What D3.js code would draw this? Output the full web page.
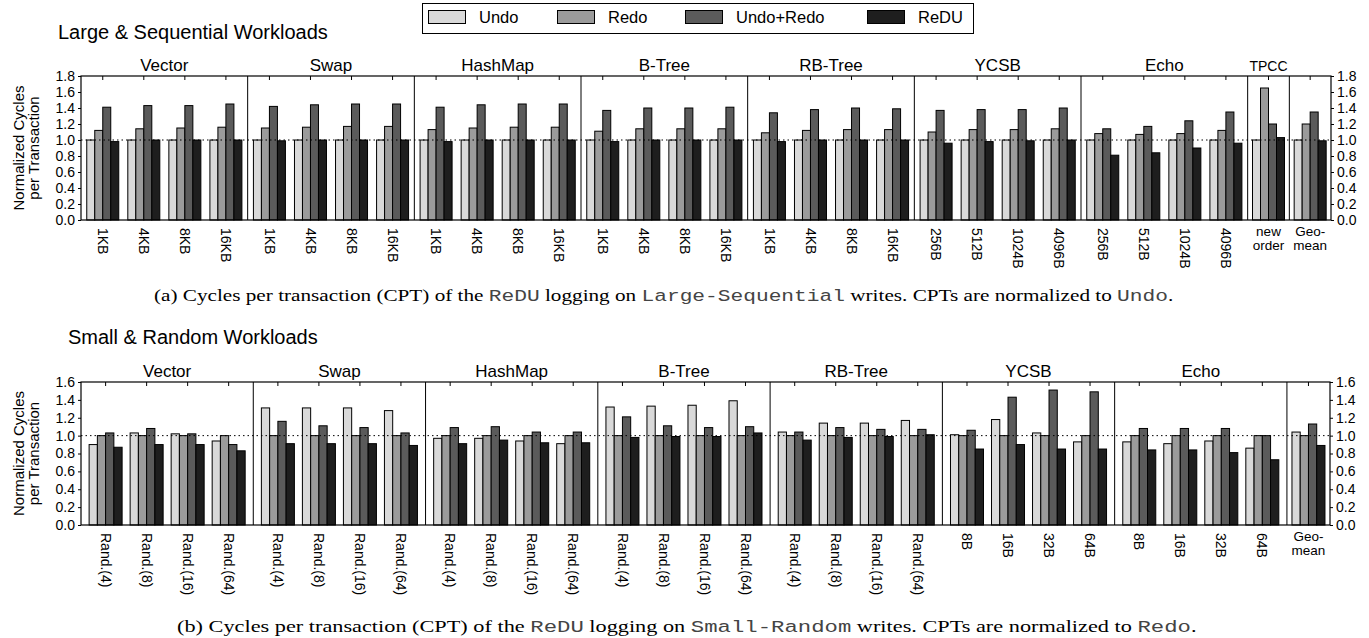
<!DOCTYPE html>
<html lang="en">
<head>
    <meta charset="UTF-8">
    <title>ReDU CPT</title>
    <script src="https://d3js.org/d3.v7.min.js"></script>
    <style>
        body { margin: 0; background: #fff; }
        svg { display: block; }
        text { font-family: "Liberation Sans", Arial, sans-serif; fill: #000; }
        text.cap { font-family: "Liberation Serif", "Times New Roman", serif; font-size: 17px; }
        tspan.mono { font-family: "Liberation Mono", "Courier New", monospace; fill: #444; }
    </style>
</head>
<body>
<svg width="1369" height="638"></svg>
<script>
    const svg = d3.select("svg");

    const series = ["Undo", "Redo", "Undo+Redo", "ReDU"];
    const seriesColors = ["#d9d9d9", "#9b9b9b", "#5b5b5b", "#1e1e1e"];

    // (a) large & sequential
    const kbLabels = ["1KB", "4KB", "8KB", "16KB"];
    const byteLabels = ["256B", "512B", "1024B", "4096B"];
    const largeGroups = ["Vector", "Swap", "HashMap", "B-Tree", "RB-Tree", "YCSB", "Echo", "TPCC", ""];
    const largeLabels = [kbLabels, kbLabels, kbLabels, kbLabels, kbLabels, byteLabels, byteLabels, ["new\norder"], ["Geo-\nmean"]];
    const largeUndo = [1, 1, 1, 1, 1, 1, 1, 1, 1, 1, 1, 1, 1, 1, 1, 1, 1, 1, 1, 1, 1, 1, 1, 1, 1, 1, 1, 1, 1, 1];
    const largeRedo = [1.12, 1.14, 1.15, 1.16, 1.15, 1.16, 1.17, 1.17, 1.13, 1.15, 1.16, 1.16,
        1.11, 1.14, 1.14, 1.14, 1.09, 1.12, 1.13, 1.13, 1.10, 1.13, 1.13, 1.14,
        1.08, 1.07, 1.08, 1.12, 1.65, 1.20];
    const largeUndoRedo = [1.41, 1.43, 1.43, 1.45, 1.42, 1.44, 1.45, 1.45, 1.41, 1.44, 1.45, 1.45,
        1.37, 1.40, 1.40, 1.41, 1.34, 1.38, 1.40, 1.39, 1.37, 1.38, 1.38, 1.40,
        1.14, 1.17, 1.24, 1.35, 1.20, 1.35];
    const largeReDU = [0.98, 1.0, 1.0, 1.0, 0.99, 1.0, 1.0, 1.0, 0.98, 1.0, 1.0, 1.0,
        0.98, 1.0, 1.0, 1.0, 0.98, 1.0, 1.0, 1.0, 0.96, 0.98, 0.99, 1.0,
        0.81, 0.84, 0.90, 0.96, 1.03, 0.99];

    // (b) small & random
    const randLabels = ["Rand.(4)", "Rand.(8)", "Rand.(16)", "Rand.(64)"];
    const smallByteLabels = ["8B", "16B", "32B", "64B"];
    const smallGroups = ["Vector", "Swap", "HashMap", "B-Tree", "RB-Tree", "YCSB", "Echo", ""];
    const smallLabels = [randLabels, randLabels, randLabels, randLabels, randLabels, smallByteLabels, smallByteLabels, ["Geo-\nmean"]];
    const smallUndo = [0.90, 1.03, 1.02, 0.94, 1.31, 1.31, 1.31, 1.28, 0.97, 0.97, 0.94, 0.91,
        1.32, 1.33, 1.34, 1.39, 1.04, 1.14, 1.14, 1.17, 1.01, 1.18, 1.03, 0.93,
        0.93, 0.91, 0.94, 0.86, 1.04];
    const smallRedo = [1, 1, 1, 1, 1, 1, 1, 1, 1, 1, 1, 1, 1, 1, 1, 1, 1, 1, 1, 1, 1, 1, 1, 1, 1, 1, 1, 1, 1];
    const smallUndoRedo = [1.03, 1.08, 1.02, 0.90, 1.16, 1.11, 1.09, 1.03, 1.09, 1.10, 1.04, 1.04,
        1.21, 1.11, 1.09, 1.10, 1.04, 1.09, 1.07, 1.07, 1.06, 1.43, 1.51, 1.49,
        1.08, 1.08, 1.08, 1.00, 1.13];
    const smallReDU = [0.87, 0.90, 0.90, 0.83, 0.91, 0.91, 0.91, 0.89, 0.91, 0.95, 0.92, 0.92,
        0.98, 0.99, 0.99, 1.03, 0.95, 0.98, 0.99, 1.01, 0.85, 0.90, 0.85, 0.85,
        0.84, 0.84, 0.81, 0.73, 0.89];

    // legend (swatch x positions as in the original key)
    const legendX = [428, 557, 685, 867];
    const legend = svg.append("g");
    legend.append("rect").attr("x", 422.5).attr("y", 3.5).attr("width", 551).attr("height", 30)
        .attr("fill", "none").attr("stroke", "#000");
    series.forEach((s, i) => {
        const lx = legendX[i];
        legend.append("rect").attr("x", lx + 0.5).attr("y", 10.5).attr("width", 37).attr("height", 13)
            .attr("fill", seriesColors[i]).attr("stroke", "#000");
        legend.append("text").attr("x", lx + 51).attr("y", 23).attr("font-size", 16.5).text(s);
    });

    function drawPanel(o) {
        const g = svg.append("g");
        const nUnits = d3.sum(o.labels, l => l.length);
        const ux = d3.scaleLinear().domain([0, nUnits]).range([o.left, o.right]);
        const y = d3.scaleLinear().domain([0, o.yMax]).range([o.bottom, o.top]);
        const sub = d3.scaleBand().domain(series).range([-o.cw / 2, o.cw / 2]);
        const values = [o.undo, o.redo, o.undoRedo, o.redu];

        // panel title
        g.append("text").attr("x", o.titleX).attr("y", o.titleY).attr("font-size", 20).text(o.title);

        // y axis label
        const ym = (o.top + o.bottom) / 2;
        g.append("text").attr("transform", `translate(24,${ym}) rotate(-90)`)
            .attr("text-anchor", "middle").attr("font-size", 15).text("Normalized Cycles");
        g.append("text").attr("transform", `translate(39,${ym}) rotate(-90)`)
            .attr("text-anchor", "middle").attr("font-size", 15).text("per Transaction");

        // y axes
        const ticks = d3.range(0, o.yMax + 0.001, 0.2);
        const yl = g.append("g").attr("transform", `translate(${o.left},0)`)
            .call(d3.axisLeft(y).tickValues(ticks).tickFormat(d3.format(".1f")).tickSize(3).tickSizeOuter(0));
        const yr = g.append("g").attr("transform", `translate(${o.right},0)`)
            .call(d3.axisRight(y).tickValues(ticks).tickFormat(d3.format(".1f")).tickSize(3).tickSizeOuter(0));
        [yl, yr].forEach(a => {
            a.selectAll("text").attr("font-size", 14).attr("font-family", "Liberation Sans").attr("fill", "#000");
            a.select(".domain").remove();
        });

        // clusters
        let unit = 0, k = 0;
        const clusters = [];
        o.groups.forEach((name, gi) => {
            const labs = o.labels[gi];
            const x0 = ux(unit), x1 = ux(unit + labs.length);
            const pos = labs.length === 1 ? (() => (x0 + x1) / 2)
                : d3.scalePoint().domain(d3.range(labs.length)).range([x0, x1]).padding(o.pad);
            labs.forEach((lab, li) => {
                clusters.push({cx: pos(li), label: lab, idx: k++});
            });
            if (name) {
                g.append("text").attr("x", (x0 + x1) / 2).attr("y", o.top - 5)
                    .attr("text-anchor", "middle").attr("font-size", name === "TPCC" ? 14 : 17).text(name);
            }
            if (gi > 0) {
                g.append("line").attr("x1", x0).attr("x2", x0).attr("y1", o.top).attr("y2", o.bottom)
                    .attr("stroke", "#000");
            }
            unit += labs.length;
        });

        // bars
        clusters.forEach(c => {
            series.forEach((s, si) => {
                const v = values[si][c.idx];
                g.append("rect")
                    .attr("x", c.cx + sub(s)).attr("width", sub.bandwidth())
                    .attr("y", y(v)).attr("height", y(0) - y(v))
                    .attr("fill", seriesColors[si]).attr("stroke", "#000").attr("stroke-width", 1);
            });
            // top tick
            g.append("line").attr("x1", c.cx).attr("x2", c.cx).attr("y1", o.top).attr("y2", o.top + 4)
                .attr("stroke", "#000");
            // x label
            if (c.label.includes("\n")) {
                const lines = c.label.split("\n");
                lines.forEach((t, i) => {
                    g.append("text").attr("x", c.cx).attr("y", o.bottom + 16 + i * 14)
                        .attr("text-anchor", "middle").attr("font-size", 13.5).text(t);
                });
            } else {
                g.append("text").attr("transform", `translate(${c.cx},${o.bottom + 8}) rotate(90)`)
                    .attr("dy", "0.35em").attr("font-size", 14).text(c.label);
            }
        });

        // reference line at 1.0
        g.append("line").attr("x1", o.left).attr("x2", o.right).attr("y1", y(1)).attr("y2", y(1))
            .attr("stroke", "#000").attr("stroke-dasharray", "1.5,3");

        // frame
        g.append("rect").attr("x", o.left).attr("y", o.top).attr("width", o.right - o.left)
            .attr("height", o.bottom - o.top).attr("fill", "none").attr("stroke", "#000").attr("stroke-width", 1.2);
    }

    drawPanel({
        title: "Large & Sequential Workloads", titleX: 58, titleY: 39,
        groups: largeGroups, labels: largeLabels,
        undo: largeUndo, redo: largeRedo, undoRedo: largeUndoRedo, redu: largeReDU,
        left: 81, right: 1331, top: 76, bottom: 220, yMax: 1.8, pad: 0.53, cw: 32
    });
    drawPanel({
        title: "Small & Random Workloads", titleX: 68, titleY: 344,
        groups: smallGroups, labels: smallLabels,
        undo: smallUndo, redo: smallRedo, undoRedo: smallUndoRedo, redu: smallReDU,
        left: 81, right: 1330, top: 382, bottom: 525, yMax: 1.6, pad: 0.6, cw: 33
    });

    // captions: the figure is stretched sideways, so widen the caption to its span
    function caption(x0, x1, yy, parts) {
        const t = svg.append("text").attr("class", "cap");
        parts.forEach(p => {
            t.append("tspan").attr("class", p[1] ? "mono" : null).text(p[0]);
        });
        const w = t.node().getComputedTextLength();
        t.attr("transform", `translate(${x0},${yy}) scale(${(x1 - x0) / w},1)`);
    }
    caption(154, 1174, 301, [["(a) Cycles per transaction (CPT) of the ", 0], ["ReDU", 1], [" logging on ", 0],
        ["Large-Sequential", 1], [" writes. CPTs are normalized to ", 0], ["Undo", 1], [".", 0]]);
    caption(177, 1197, 632, [["(b) Cycles per transaction (CPT) of the ", 0], ["ReDU", 1], [" logging on ", 0],
        ["Small-Random", 1], [" writes. CPTs are normalized to ", 0], ["Redo", 1], [".", 0]]);
</script>
</body>
</html>
